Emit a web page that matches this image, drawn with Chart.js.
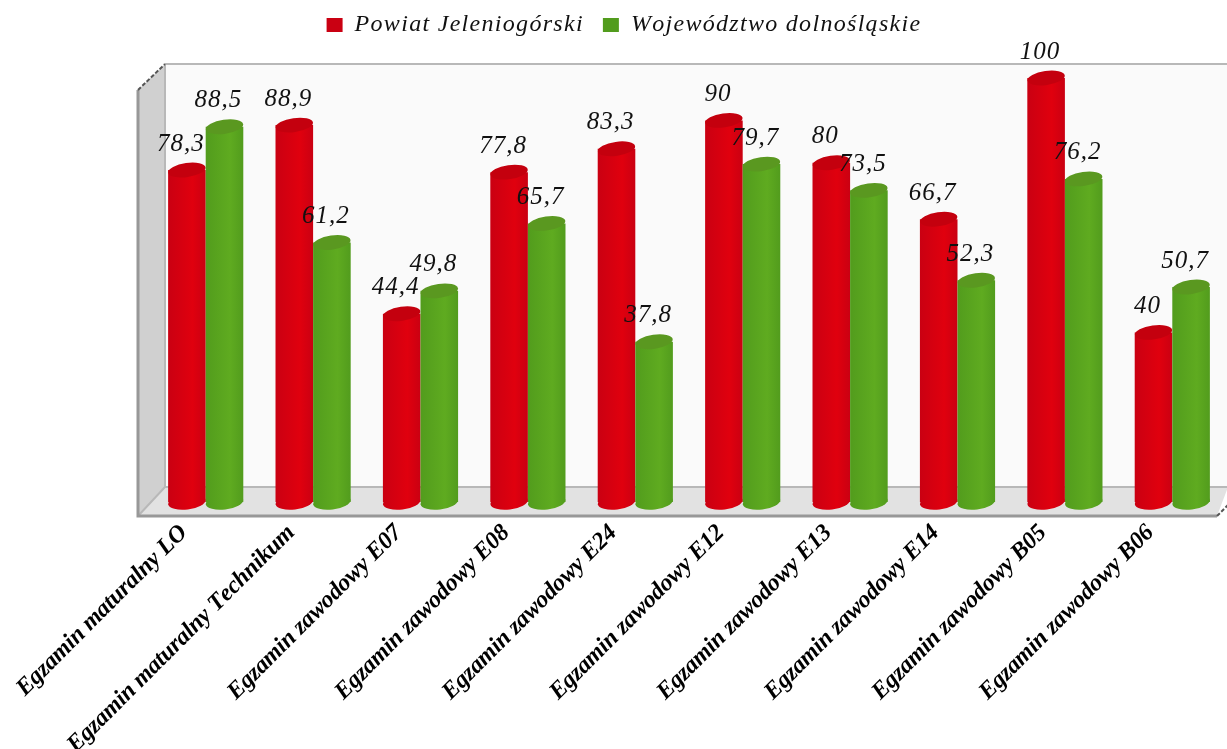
<!DOCTYPE html>
<html>
<head>
<meta charset="utf-8">
<script src="https://cdn.jsdelivr.net/npm/chart.js@4/dist/chart.umd.js"></script>
<style>
body { margin: 0; background: #fff; }
canvas { display: block; filter: blur(0.4px); }
</style>
</head>
<body>
<canvas id="grafico" width="1227" height="749"></canvas>
<script>
const categorias = [
    "Egzamin maturalny LO", "Egzamin maturalny Technikum", "Egzamin zawodowy E07",
    "Egzamin zawodowy E08", "Egzamin zawodowy E24", "Egzamin zawodowy E12",
    "Egzamin zawodowy E13", "Egzamin zawodowy E14", "Egzamin zawodowy B05",
    "Egzamin zawodowy B06"
];
const powiat = [78.3, 88.9, 44.4, 77.8, 83.3, 90, 80, 66.7, 100, 40];
const wojewodztwo = [88.5, 61.2, 49.8, 65.7, 37.8, 79.7, 73.5, 52.3, 76.2, 50.7];

const colores = [
    { base: "#cc0010", oscuro: "#ca0012", claro: "#e0000e", tapa: "#c4000e" },
    { base: "#5aa01e", oscuro: "#529c1d", claro: "#5fab20", tapa: "#5a9820" }
];

// gradiente horizontal de cada barra, el cilindro sale de aqui
function relleno(c) {
    const col = colores[c.datasetIndex];
    const x = c.chart.scales.x;
    if (c.dataIndex === undefined || !x || !x.width) return col.base;
    const centro = x.getPixelForValue(c.dataIndex);
    const ancho = x.width / categorias.length * 0.7 / 2;
    const izq = c.datasetIndex === 0 ? centro - ancho : centro;
    const g = c.chart.ctx.createLinearGradient(izq, 0, izq + ancho, 0);
    g.addColorStop(0, col.oscuro);
    g.addColorStop(0.65, col.claro);
    g.addColorStop(1, col.oscuro);
    return g;
}

function elipse(ctx, bar, y, ry, giro, color) {
    ctx.fillStyle = color;
    ctx.beginPath();
    ctx.ellipse(bar.x, y, bar.width / 2, ry, giro, 0, Math.PI * 2);
    ctx.fill();
}

function bases(chart, indice) {
    chart.getDatasetMeta(indice).data.forEach((bar, i) => {
        const g = relleno({ chart, datasetIndex: indice, dataIndex: i });
        elipse(chart.ctx, bar, bar.base, 7.5, -0.12, g);
    });
}

function tapas(chart, indice) {
    chart.getDatasetMeta(indice).data.forEach((bar) => {
        elipse(chart.ctx, bar, bar.y, 7, -0.14, colores[indice].tapa);
    });
}

// chart.js pinta primero el ultimo dataset, aqui el verde tiene que ir encima del rojo
const cilindros = {
    id: "cilindros",
    beforeDatasetDraw(chart, args) {
        if (args.index === 1) return false;
        bases(chart, 0);
    },
    afterDatasetDraw(chart, args) {
        tapas(chart, 0);
        bases(chart, 1);
        chart.getDatasetMeta(1).controller.draw();
        tapas(chart, 1);
    }
};

const marco = {
    id: "marco",
    beforeLayout(chart) {
        // espacio entre la leyenda y el grafico
        const leyenda = chart.legend;
        if (!leyenda.fitOriginal) {
            leyenda.fitOriginal = leyenda.fit;
            leyenda.fit = function () {
                this.fitOriginal();
                this.height = 78;
            };
        }
        chart.ctx.letterSpacing = "1.3px";
        chart.ctx.fontKerning = "none";
    },
    beforeDraw(chart) {
        chart.ctx.letterSpacing = "1.3px";
        chart.ctx.fontKerning = "none";
        chart.legend.top = -6;
    },
    beforeDatasetsDraw(chart) {
        const { ctx, chartArea: a } = chart;
        const frenteX = a.left - 14, fondoX = a.left + 13;
        const techo = a.top - 14, sueloFondo = a.bottom - 15, sueloFrente = a.bottom + 14;
        const fin = a.right;
        ctx.save();
        ctx.fillStyle = "#fafafa";
        ctx.fillRect(fondoX, techo, fin - fondoX + 2, sueloFondo - techo);
        ctx.fillStyle = "#d0d0d0";
        ctx.beginPath();
        ctx.moveTo(frenteX, techo + 26);
        ctx.lineTo(fondoX, techo);
        ctx.lineTo(fondoX, sueloFondo);
        ctx.lineTo(frenteX, sueloFrente);
        ctx.fill();
        ctx.fillStyle = "#e2e2e2";
        ctx.beginPath();
        ctx.moveTo(fondoX, sueloFondo);
        ctx.lineTo(fin + 2, sueloFondo);
        ctx.lineTo(fin - 9, sueloFrente);
        ctx.lineTo(frenteX, sueloFrente);
        ctx.fill();
        ctx.strokeStyle = "#b8b8b8";
        ctx.lineWidth = 2;
        ctx.beginPath();
        ctx.moveTo(fondoX, techo);
        ctx.lineTo(fin + 2, techo);
        ctx.moveTo(fondoX, techo);
        ctx.lineTo(fondoX, sueloFondo);
        ctx.lineTo(fin + 2, sueloFondo);
        ctx.moveTo(fondoX, sueloFondo);
        ctx.lineTo(frenteX, sueloFrente);
        ctx.stroke();
        ctx.strokeStyle = "#989898";
        ctx.lineWidth = 3;
        ctx.beginPath();
        ctx.moveTo(frenteX, techo + 26);
        ctx.lineTo(frenteX, sueloFrente);
        ctx.lineTo(fin - 9, sueloFrente);
        ctx.stroke();
        ctx.strokeStyle = "#555";
        ctx.lineWidth = 2;
        ctx.setLineDash([4, 2]);
        ctx.beginPath();
        ctx.moveTo(frenteX, techo + 26);
        ctx.lineTo(fondoX, techo);
        ctx.moveTo(fin - 9, sueloFrente);
        ctx.lineTo(fin + 2, sueloFrente - 11);
        ctx.stroke();
        ctx.restore();
    },
    afterDatasetsDraw(chart) {
        const ctx = chart.ctx;
        ctx.save();
        ctx.font = "italic 25px 'Liberation Serif'";
        ctx.fillStyle = "#111";
        ctx.textAlign = "center";
        ctx.textBaseline = "middle";
        ctx.letterSpacing = "1px";
        chart.data.datasets.forEach((ds, d) => {
            chart.getDatasetMeta(d).data.forEach((bar, i) => {
                const txt = String(ds.data[i]).replace(".", ",");
                ctx.fillText(txt, bar.x - 6, bar.y - 26);
            });
        });
        ctx.restore();
        // lo siguiente son las etiquetas del eje x, van mas apretadas
        ctx.letterSpacing = "-0.2px";
    }
};

new Chart(document.getElementById("grafico"), {
    type: "bar",
    data: {
        labels: categorias,
        datasets: [
            { label: "Powiat Jeleniogórski", data: powiat, backgroundColor: relleno },
            { label: "Województwo dolnośląskie", data: wojewodztwo, backgroundColor: relleno }
        ]
    },
    plugins: [marco, cilindros],
    options: {
        responsive: false,
        animation: false,
        categoryPercentage: 0.7,
        barPercentage: 1,
        layout: { padding: { left: 22, right: 1, top: 0, bottom: 0 } },
        plugins: {
            tooltip: { enabled: false },
            legend: {
                position: "top",
                labels: {
                    boxWidth: 16,
                    boxHeight: 14,
                    padding: 19,
                    color: "#111",
                    font: { family: "'Liberation Serif'", style: "italic", size: 24 }
                }
            }
        },
        scales: {
            x: {
                grid: { display: false },
                border: { display: false },
                afterFit(s) { s.height = 247; },
                ticks: {
                    z: 1,
                    autoSkip: false,
                    minRotation: 45,
                    maxRotation: 45,
                    padding: 9,
                    labelOffset: -22,
                    color: "#000",
                    font: { family: "'Liberation Serif'", style: "italic", weight: "bold", size: 24 }
                }
            },
            y: {
                min: 0,
                max: 100,
                grid: { display: false },
                border: { display: false },
                ticks: { display: false },
                afterFit(s) { s.width = 130; }
            }
        }
    }
});
</script>
</body>
</html>
